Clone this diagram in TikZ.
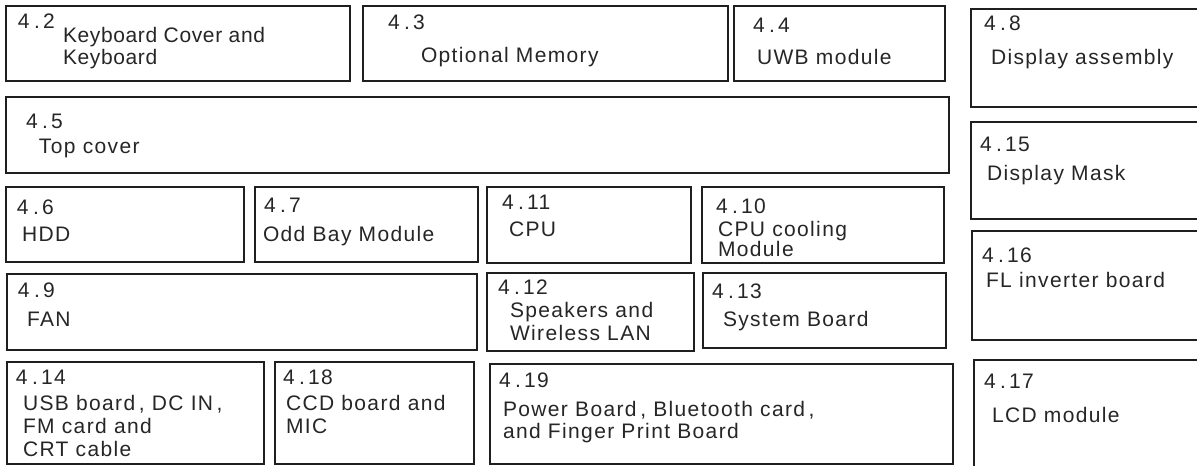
\documentclass[tikz,border=0pt]{standalone}
\usepackage{fontspec}
\setmainfont{Liberation Sans}[LetterSpace=6.5]
\newfontfamily\kbfont{Liberation Sans}[LetterSpace=3]
\newcommand\secno[2]{#1\kern2.2pt.\kern1.6pt#2}
\newcommand\cma{\kern1.8pt,}
\begin{document}
\begin{tikzpicture}[x=0.5pt,y=-0.5pt,
  box/.style={draw=black!88,line width=1.1pt,inner sep=0pt,outer sep=0pt,anchor=north west},
  lbl/.style={inner sep=0pt,outer sep=0pt,anchor=base west,font=\fontsize{10.5pt}{12pt}\selectfont,text=black!85}]
\useasboundingbox[fill=white] (0,0) rectangle (1197,465);
\newcommand\bx[5]{\node[box,minimum width={(#4-#2)*0.5pt},minimum height={(#5-#3)*0.5pt}] (#1) at (#2,#3) {};}
% boxes
\bx{b42}{6}{6}{350}{81}
\bx{b43}{363}{6}{728}{81}
\bx{b44}{734}{6}{945}{81}
\bx{b45}{6}{97}{949}{173}
\bx{b48}{971}{9}{1205}{107}
\bx{b415}{971}{122}{1205}{219}
\bx{b416}{972}{231}{1205}{340}
\bx{b417}{974}{360}{1205}{472}
\bx{b46}{6}{187}{244}{262}
\bx{b47}{255}{187}{478}{262}
\bx{b411}{487}{187}{691}{263}
\bx{b410}{702}{187}{944}{263}
\bx{b49}{7}{274}{477}{350}
\bx{b412}{487}{273}{694}{351}
\bx{b413}{703}{273}{946}{348}
\bx{b414}{7}{362}{264}{464}
\bx{b418}{275}{362}{474}{464}
\bx{b419}{490}{364}{953}{464}
% labels
\node[lbl] (n42) at (18,29) {\secno{4}{2}};
\node[lbl,font=\kbfont\fontsize{10.5pt}{12pt}\selectfont] (t42a) at (63,43) {Keyboard Cover and};
\node[lbl,font=\kbfont\fontsize{10.5pt}{12pt}\selectfont] (t42b) at (63,65) {Keyboard};
\node[lbl] (n43) at (388,30) {\secno{4}{3}};
\node[lbl] (t43) at (421,62) {Optional Memory};
\node[lbl] (n44) at (753,33) {\secno{4}{4}};
\node[lbl] (t44) at (757,65) {UWB module};
\node[lbl] (n45) at (26,128) {\secno{4}{5}};
\node[lbl] (t45) at (39,153) {Top cover};
\node[lbl] (n48) at (984,31) {\secno{4}{8}};
\node[lbl] (t48) at (991,65) {Display assembly};
\node[lbl] (n415) at (980,151) {\secno{4}{15}};
\node[lbl] (t415) at (987,180) {Display Mask};
\node[lbl] (n416) at (982,262) {\secno{4}{16}};
\node[lbl] (t416) at (986,287) {FL inverter board};
\node[lbl] (n417) at (984,388) {\secno{4}{17}};
\node[lbl] (t417) at (992,422) {LCD module};
\node[lbl] (n46) at (17,214) {\secno{4}{6}};
\node[lbl] (t46) at (22,241) {HDD};
\node[lbl] (n47) at (264,212) {\secno{4}{7}};
\node[lbl] (t47) at (263,241) {Odd Bay Module};
\node[lbl] (n411) at (502,209) {\secno{4}{11}};
\node[lbl] (t411) at (509,236) {CPU};
\node[lbl] (n410) at (716,213) {\secno{4}{10}};
\node[lbl] (t410a) at (718,236) {CPU cooling};
\node[lbl] (t410b) at (718,256) {Module};
\node[lbl] (n49) at (18,297) {\secno{4}{9}};
\node[lbl] (t49) at (27,326) {FAN};
\node[lbl] (n412) at (498,294) {\secno{4}{12}};
\node[lbl] (t412a) at (510,317) {Speakers and};
\node[lbl] (t412b) at (510,340) {Wireless LAN};
\node[lbl] (n413) at (712,298) {\secno{4}{13}};
\node[lbl] (t413) at (723,326) {System Board};
\node[lbl] (n414) at (16,384) {\secno{4}{14}};
\node[lbl] (t414a) at (23,410) {USB board\cma{} DC IN\cma};
\node[lbl] (t414b) at (23,433) {FM card and};
\node[lbl] (t414c) at (23,456) {CRT cable};
\node[lbl] (n418) at (283,384) {\secno{4}{18}};
\node[lbl] (t418a) at (286,410) {CCD board and};
\node[lbl] (t418b) at (286,433) {MIC};
\node[lbl] (n419) at (499,387) {\secno{4}{19}};
\node[lbl] (t419a) at (503,416) {Power Board\cma{} Bluetooth card\cma};
\node[lbl] (t419b) at (503,438) {and Finger Print Board};
\end{tikzpicture}
\end{document}
